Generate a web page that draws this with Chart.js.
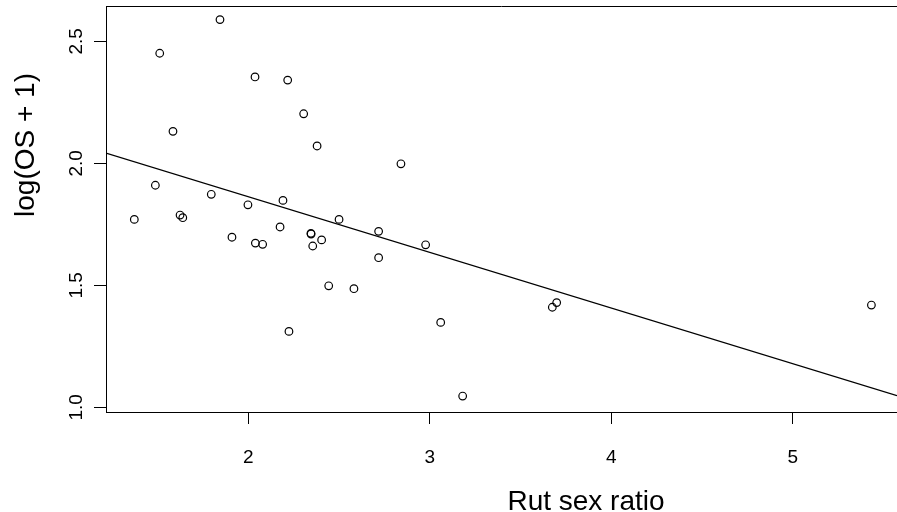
<!DOCTYPE html>
<html>
<head>
<meta charset="utf-8">
<script src="https://cdn.jsdelivr.net/npm/chart.js@4"></script>
<style>
html, body { margin: 0; padding: 0; background: #fff; }
</style>
</head>
<body>
<canvas id="plot" width="897" height="512"></canvas>
<script>
var sexRatio = [1.372, 1.488, 1.512, 1.585, 1.624, 1.639, 1.796, 1.844, 1.910, 1.998,
                2.037, 2.039, 2.079, 2.175, 2.191, 2.217, 2.224, 2.305, 2.345, 2.346,
                2.355, 2.379, 2.404, 2.443, 2.500, 2.582, 2.718, 2.718, 2.841, 2.977,
                3.060, 3.181, 3.675, 3.699, 5.433];
var logOS = [1.770, 1.910, 2.451, 2.131, 1.788, 1.777, 1.873, 2.589, 1.697, 1.830,
             2.354, 1.673, 1.668, 1.739, 1.848, 2.341, 1.311, 2.203, 1.713, 1.710,
             1.661, 2.071, 1.686, 1.498, 1.770, 1.486, 1.721, 1.613, 1.998, 1.666,
             1.348, 1.046, 1.410, 1.429, 1.419];

// fitted line end points (at the plot edges)
var fitX = [1.216, 5.574];
var fitY = [2.042, 1.048];

var xTicks = [2, 3, 4, 5];
var yTicks = [1.0, 1.5, 2.0, 2.5];
var xTitle = 'Rut sex ratio';
var yTitle = 'log(OS + 1)';

var FONT = '"Liberation Sans", Arial, Helvetica, sans-serif';

var rPlotBits = {
    id: 'rPlotBits',
    afterDraw: function(chart) {
        var ctx = chart.ctx;
        var area = chart.chartArea;
        var ys = chart.scales.y;
        ctx.save();
        ctx.strokeStyle = '#000';
        ctx.lineWidth = 1;
        // top edge of the box
        ctx.beginPath();
        ctx.moveTo(area.left, area.top + 0.5);
        ctx.lineTo(area.right, area.top + 0.5);
        ctx.stroke();

        ctx.fillStyle = '#000';
        // y tick labels, turned like R does
        ctx.font = '19px ' + FONT;
        ctx.textAlign = 'center';
        ctx.textBaseline = 'alphabetic';
        yTicks.forEach(function(v) {
            var py = ys.getPixelForValue(v);
            ctx.save();
            ctx.translate(82, py);
            ctx.rotate(-Math.PI / 2);
            ctx.fillText(v.toFixed(1), 0, 0);
            ctx.restore();
        });

        // axis titles
        ctx.font = '28px ' + FONT;
        ctx.fillText(xTitle, 586, 510);
        ctx.save();
        ctx.translate(34, 145);
        ctx.rotate(-Math.PI / 2);
        ctx.fillText(yTitle, 0, 0);
        ctx.restore();
        ctx.restore();
    }
};

var points = sexRatio.map(function(x, i) { return { x: x, y: logOS[i] }; });
var fitLine = fitX.map(function(x, i) { return { x: x, y: fitY[i] }; });

new Chart(document.getElementById('plot').getContext('2d'), {
    type: 'scatter',
    data: {
        datasets: [
            {
                data: points,
                pointStyle: 'circle',
                pointRadius: 3.8,
                pointHoverRadius: 3.8,
                pointBorderWidth: 1.2,
                borderColor: '#000',
                backgroundColor: 'rgba(0,0,0,0)'
            },
            {
                type: 'line',
                data: fitLine,
                borderColor: '#000',
                borderWidth: 1.3,
                pointRadius: 0,
                fill: false
            }
        ]
    },
    options: {
        responsive: false,
        animation: false,
        devicePixelRatio: 1,
        events: [],
        layout: { autoPadding: false, padding: { top: 6, right: 0, bottom: 0, left: 0 } },
        plugins: {
            legend: { display: false },
            tooltip: { enabled: false }
        },
        scales: {
            x: {
                type: 'linear',
                position: 'bottom',
                min: 1.216,
                max: 5.574,
                afterBuildTicks: function(s) {
                    s.ticks = xTicks.map(function(v) { return { value: v }; });
                },
                afterFit: function(s) { s.height = 100; },
                grid: { drawOnChartArea: false, drawTicks: true, tickLength: 12, color: '#000', lineWidth: 1 },
                border: { display: true, color: '#000', width: 1 },
                ticks: {
                    color: '#000',
                    font: { family: FONT, size: 19 },
                    padding: 22,
                    maxRotation: 0,
                    autoSkip: false
                }
            },
            y: {
                type: 'linear',
                min: 0.9807,
                max: 2.6447,
                afterBuildTicks: function(s) {
                    s.ticks = yTicks.map(function(v) { return { value: v }; });
                },
                afterFit: function(s) { s.width = 106; },
                grid: { drawOnChartArea: false, drawTicks: true, tickLength: 12, color: '#000', lineWidth: 1 },
                border: { display: true, color: '#000', width: 1 },
                ticks: { display: false }
            }
        }
    },
    plugins: [rPlotBits]
});
</script>
</body>
</html>
